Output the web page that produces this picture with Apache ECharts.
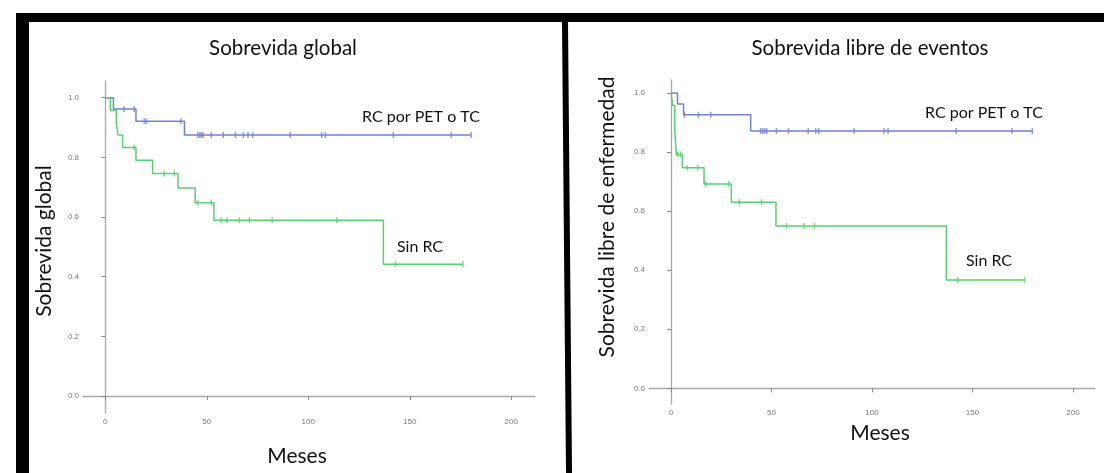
<!DOCTYPE html>
<html lang="es">
<head>
    <meta charset="UTF-8">
    <script src="https://cdn.jsdelivr.net/npm/echarts@6/dist/echarts.min.js"></script>
    <title>Sobrevida</title>
    <style>
        body { margin: 0; background: #fff; }
        #chart { width: 1104px; height: 473px; }
    </style>
</head>
<body>
    <div id="chart"></div>
    <script>
        // ticks
        var xTicks = [0, 50, 100, 150, 200];
        var yTicks = [0, 0.2, 0.4, 0.6, 0.8, 1.0];

        // Sobrevida global - RC por PET o TC
        var sgRcTime = [0, 4, 15.1, 39, 180.2];
        var sgRcSurv = [1, 0.962, 0.921, 0.875, 0.875];
        var sgRcCensTime = [9.2, 14.2, 19.2, 20.3, 37.3, 45.5, 46.5, 47.3, 48.2, 52.2, 58.1, 64.1, 68, 70.3, 72.6, 91.1, 106.6, 108.4, 141.9, 170.4, 180.2];
        var sgRcCensSurv = [0.962, 0.962, 0.921, 0.921, 0.921, 0.875, 0.875, 0.875, 0.875, 0.875, 0.875, 0.875, 0.875, 0.875, 0.875, 0.875, 0.875, 0.875, 0.875, 0.875, 0.875];

        // Sobrevida global - Sin RC
        var sgSinTime = [0, 2.5, 5.4, 6.2, 8.5, 15.1, 23.3, 35.8, 44.3, 53.5, 137, 176.2];
        var sgSinSurv = [1, 0.958, 0.917, 0.875, 0.833, 0.79, 0.746, 0.697, 0.648, 0.589, 0.442, 0.442];
        var sgSinCensTime = [14.2, 29, 34, 45.5, 52.2, 57, 60, 66, 71, 82.2, 114, 143, 176.2];
        var sgSinCensSurv = [0.833, 0.746, 0.746, 0.648, 0.648, 0.589, 0.589, 0.589, 0.589, 0.589, 0.589, 0.442, 0.442];

        // Sobrevida libre de eventos - RC por PET o TC
        var slRcTime = [0, 3.2, 6.2, 39.6, 179.8];
        var slRcSurv = [1, 0.963, 0.926, 0.871, 0.871];
        var slRcCensTime = [6.6, 13.6, 19.8, 44.6, 45.6, 46.6, 47.6, 52.4, 58.4, 68.2, 72, 73.5, 91.1, 106, 108, 141.9, 169.7, 179.8];
        var slRcCensSurv = [0.926, 0.926, 0.926, 0.871, 0.871, 0.871, 0.871, 0.871, 0.871, 0.871, 0.871, 0.871, 0.871, 0.871, 0.871, 0.871, 0.871, 0.871];

        // Sobrevida libre de eventos - Sin RC
        var slSinTime = [0, 0.8, 1.8, 2.6, 5.6, 16.4, 30, 52.2, 137, 176];
        var slSinSurv = [1, 0.958, 0.875, 0.792, 0.747, 0.692, 0.63, 0.55, 0.367, 0.367];
        var slSinCensTime = [3.3, 4.7, 8.1, 13.2, 17.3, 28.8, 34, 45, 57.5, 66.2, 71.4, 142.7, 176];
        var slSinCensSurv = [0.792, 0.792, 0.747, 0.747, 0.692, 0.692, 0.63, 0.63, 0.55, 0.55, 0.55, 0.367, 0.367];

        var blue = '#6f83d2';
        var green = '#55d26f';
        var txtFont = 'Lato, "Open Sans", sans-serif';

        function pairs(t, s) {
            return t.map(function (v, i) { return [v, s[i]]; });
        }

        function xAxisCfg(idx, max) {
            return {
                type: 'value', gridIndex: idx, min: -11, max: max,
                axisLine: { show: true, lineStyle: { color: '#a8a8a8', width: 1.3 } },
                axisTick: { show: true, customValues: xTicks, length: 4, lineStyle: { color: '#888' } },
                axisLabel: { customValues: xTicks, color: '#777', fontSize: 8, fontFamily: 'Liberation Sans', margin: 5 },
                splitLine: { show: false }
            };
        }

        function yAxisCfg(idx, min, max) {
            return {
                type: 'value', gridIndex: idx, min: min, max: max,
                axisLine: { show: true, lineStyle: { color: '#a8a8a8', width: 1.3 } },
                axisTick: { show: true, customValues: yTicks, length: 4, lineStyle: { color: '#888' } },
                axisLabel: {
                    customValues: yTicks, color: '#777', fontSize: 8, fontFamily: 'Liberation Sans', margin: 4,
                    formatter: function (v) { return v.toFixed(1); }
                },
                splitLine: { show: false }
            };
        }

        function stepLine(idx, name, t, s, color) {
            return {
                name: name, type: 'line', xAxisIndex: idx, yAxisIndex: idx,
                step: 'end', showSymbol: false, silent: true,
                lineStyle: { color: color, width: 1.5 },
                data: pairs(t, s)
            };
        }

        function censors(idx, t, s, color) {
            return {
                type: 'scatter', xAxisIndex: idx, yAxisIndex: idx,
                symbol: 'rect', symbolSize: [1.5, 6], silent: true,
                itemStyle: { color: color },
                data: pairs(t, s)
            };
        }

        function txt(x, y, text, size, rot) {
            return {
                type: 'text', x: x, y: y, rotation: rot || 0, silent: true,
                style: { text: text, fontSize: size, fontFamily: txtFont, fill: '#111', align: 'center', verticalAlign: 'middle' }
            };
        }

        var myChart = echarts.init(document.getElementById('chart'));
        var option = {
            animation: false,
            backgroundColor: '#fff',
            grid: [
                { left: 83, top: 81, width: 452, height: 332 },
                { left: 649, top: 80, width: 446, height: 324 }
            ],
            xAxis: [xAxisCfg(0, 211.7), xAxisCfg(1, 211)],
            yAxis: [yAxisCfg(0, -0.057, 1.056), yAxisCfg(1, -0.053, 1.044)],
            series: [
                stepLine(0, 'RC por PET o TC', sgRcTime, sgRcSurv, blue),
                stepLine(0, 'Sin RC', sgSinTime, sgSinSurv, green),
                censors(0, sgRcCensTime, sgRcCensSurv, blue),
                censors(0, sgSinCensTime, sgSinCensSurv, green),
                stepLine(1, 'RC por PET o TC', slRcTime, slRcSurv, blue),
                stepLine(1, 'Sin RC', slSinTime, slSinSurv, green),
                censors(1, slRcCensTime, slRcCensSurv, blue),
                censors(1, slSinCensTime, slSinCensSurv, green)
            ],
            graphic: [
                // marco negro
                { type: 'rect', shape: { x: 16, y: 13, width: 1088, height: 9 }, style: { fill: '#000' }, silent: true },
                { type: 'rect', shape: { x: 16, y: 13, width: 13, height: 460 }, style: { fill: '#000' }, silent: true },
                { type: 'polygon', shape: { points: [[562, 22], [568, 22], [572, 473], [566, 473]] }, style: { fill: '#000' }, silent: true },
                txt(283, 48, 'Sobrevida global', 20.5),
                txt(870, 48, 'Sobrevida libre de eventos', 20.5),
                txt(44, 241, 'Sobrevida global', 21, Math.PI / 2),
                txt(607, 217, 'Sobrevida libre de enfermedad', 21, Math.PI / 2),
                txt(297, 456, 'Meses', 21),
                txt(880, 433, 'Meses', 21),
                txt(421, 117, 'RC por PET o TC', 16),
                txt(984, 113, 'RC por PET o TC', 16),
                txt(420, 247, 'Sin RC', 16),
                txt(989, 261, 'Sin RC', 16)
            ]
        };
        myChart.setOption(option);
    </script>
</body>
</html>
